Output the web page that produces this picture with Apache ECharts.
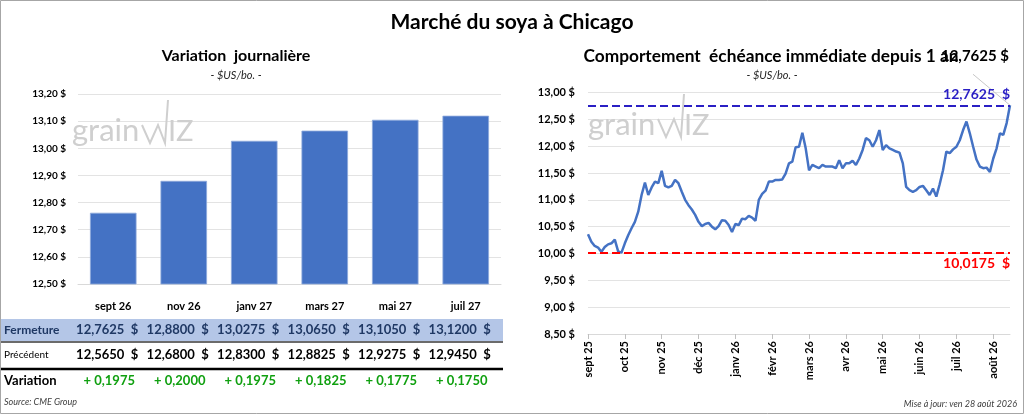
<!DOCTYPE html>
<html><head><meta charset="utf-8">
<script src="https://cdn.jsdelivr.net/npm/echarts@6/dist/echarts.min.js"></script>
<style>html,body{margin:0;padding:0;background:#fff}#c{width:1024px;height:414px}</style>
</head><body><div id="c"></div>
<script>
// ---- data ----
const contracts = ['sept 26', 'nov 26', 'janv 27', 'mars 27', 'mai 27', 'juil 27'];
const closes    = [12.7625, 12.8800, 13.0275, 13.0650, 13.1050, 13.1200];
const previous  = [12.5650, 12.6800, 12.8300, 12.8825, 12.9275, 12.9450];
const variation = [0.1975, 0.2000, 0.1975, 0.1825, 0.1775, 0.1750];

const monthLabels = ['sept 25', 'oct 25', 'nov 25', 'déc 25', 'janv 26', 'févr 26',
                     'mars 26', 'avr 26', 'mai 26', 'juin 26', 'juil 26', 'août 26'];
const pointsPerLabel = 11;
const history = [
  10.36, 10.22, 10.14, 10.11, 10.03, 10.12, 10.17, 10.19, 10.26, 10.04,
  10.0175, 10.19, 10.34, 10.47, 10.59, 10.78, 11.09, 11.32, 11.09, 11.23,
  11.34, 11.31, 11.54, 11.26, 11.23, 11.26, 11.37, 11.31, 11.15, 11.00,
  10.90, 10.82, 10.72, 10.59, 10.51, 10.55, 10.57, 10.50, 10.45, 10.51,
  10.62, 10.61, 10.53, 10.40, 10.55, 10.53, 10.65, 10.64, 10.70, 10.67,
  10.61, 11.00, 11.11, 11.17, 11.34, 11.34, 11.37, 11.37, 11.38, 11.49,
  11.68, 11.71, 11.98, 11.99, 12.25, 11.96, 11.55, 11.65, 11.62, 11.59,
  11.65, 11.62, 11.62, 11.62, 11.59, 11.74, 11.59, 11.68, 11.68, 11.73,
  11.65, 11.77, 11.93, 12.15, 12.11, 11.99, 12.11, 12.30, 11.93, 12.02,
  11.96, 11.93, 11.90, 11.88, 11.68, 11.24, 11.18, 11.15, 11.18, 11.24,
  11.26, 11.18, 11.09, 11.21, 11.06, 11.29, 11.55, 11.90, 11.87, 11.94,
  11.99, 12.11, 12.30, 12.46, 12.24, 11.99, 11.75, 11.62, 11.59, 11.60,
  11.52, 11.77, 11.96, 12.24, 12.21, 12.43, 12.7625
];
const low52 = 10.0175;
const lastClose = 12.7625;

// ---- helpers ----
const FONT = 'Lato';
const fr = (v, d) => v.toFixed(d).replace('.', ',');
const fmtAxis = v => fr(v, 2) + ' $';
const xCats = history.map((v, i) => monthLabels[Math.floor(i / pointsPerLabel)]);
const lastIdx = history.length - 1;

const chart = echarts.init(document.getElementById('c'), null, { renderer: 'canvas' });

const option = {
  backgroundColor: '#fff',
  animation: false,
  textStyle: { fontFamily: FONT },
  grid: [
    { left: 78, top: 94, width: 423, height: 190 },
    { left: 588, top: 92.5, width: 422, height: 241.5 }
  ],
  xAxis: [
    { type: 'category', gridIndex: 0, data: contracts,
      axisLine: { show: true, lineStyle: { color: '#d9d9d9' } },
      axisTick: { show: false },
      axisLabel: { margin: 17, fontFamily: FONT, fontWeight: 'bold', fontSize: 11, color: '#000' } },
    { type: 'category', gridIndex: 1, data: xCats, boundaryGap: false,
      axisLine: { show: true, lineStyle: { color: '#d9d9d9' } },
      axisTick: { show: true, length: 5, lineStyle: { color: '#bfbfbf' },
                  interval: i => i % pointsPerLabel === 0 },
      axisLabel: { rotate: 90, margin: 7, fontFamily: FONT, fontWeight: 'bold', fontSize: 11, color: '#000',
                   interval: i => i % pointsPerLabel === 0 } }
  ],
  yAxis: [
    { type: 'value', gridIndex: 0, min: 12.5, max: 13.2, interval: 0.1,
      axisLine: { show: false }, axisTick: { show: false },
      splitLine: { lineStyle: { color: '#e3e3e3' } },
      axisLabel: { margin: 12, formatter: fmtAxis, fontFamily: FONT, fontWeight: 'bold', fontSize: 10, color: '#000' } },
    { type: 'value', gridIndex: 1, min: 8.5, max: 13, interval: 0.5,
      axisLine: { show: false }, axisTick: { show: false },
      splitLine: { lineStyle: { color: '#e3e3e3' } },
      axisLabel: { margin: 13, formatter: fmtAxis, fontFamily: FONT, fontWeight: 'bold', fontSize: 11, color: '#000' } }
  ],
  series: [
    { type: 'bar', xAxisIndex: 0, yAxisIndex: 0, data: closes, barWidth: '66%',
      itemStyle: { color: '#4472C4', borderColor: '#8eaadc', borderWidth: 0.8 } },
    { type: 'line', xAxisIndex: 1, yAxisIndex: 1, data: history, symbol: 'none',
      lineStyle: { color: '#4472C4', width: 2.5 }, itemStyle: { color: '#4472C4' },
      markLine: {
        silent: true, symbol: 'none',
        data: [
          { yAxis: lastClose,
            lineStyle: { color: '#2a1fc4', type: 'dashed', width: 2 },
            label: { position: 'insideEndTop', formatter: fr(lastClose, 4) + '  $', distance: [0, 4],
                     fontFamily: FONT, fontWeight: 'bold', fontSize: 14, color: '#2a1fc4' } },
          { yAxis: low52,
            lineStyle: { color: '#ff0000', type: 'dashed', width: 2 },
            label: { position: 'insideEndBottom', formatter: fr(low52, 4) + '  $', distance: [0, 4],
                     fontFamily: FONT, fontWeight: 'bold', fontSize: 14, color: '#ff0000' } }
        ]
      } }
  ]
};
chart.setOption(option);

// ---- texts & table (positions taken from the library's axes) ----
function txt(x, y, text, o) {
  return { type: 'text', z: 10, style: Object.assign({ x, y, text, fontFamily: FONT, fontSize: 12,
    fill: '#000', textAlign: 'left', textVerticalAlign: 'middle' }, o || {}) };
}
function watermark(x, y) {
  const c = '#cfcfcf';
  return { type: 'group', x, y, z: 0, silent: true, children: [
    { type: 'text', style: { x: 0, y: 0, text: 'grain', fontFamily: FONT, fontSize: 31, fill: c, textVerticalAlign: 'bottom' } },
    { type: 'polyline', shape: { points: [[70, -21], [78, -3], [86, -21], [93, -3], [96, -46]] },
      style: { stroke: c, lineWidth: 2, fill: null } },
    { type: 'text', style: { x: 96, y: 0, text: 'IZ', fontFamily: FONT, fontSize: 29, fill: c, textVerticalAlign: 'bottom' } }
  ] };
}

const g = [];
g.push({ type: 'rect', z: 20, shape: { x: 0.5, y: 0.5, width: 1023, height: 413 }, style: { fill: null, stroke: '#a6a6a6', lineWidth: 1 } });
g.push(watermark(72, 146));
g.push(watermark(588, 140));
g.push(txt(512, 22, 'Marché du soya à Chicago', { textAlign: 'center', fontSize: 21, fontWeight: 'bold' }));
g.push(txt(236, 56, 'Variation  journalière', { textAlign: 'center', fontSize: 16, fontWeight: 'bold' }));
g.push(txt(236, 75, '- $US/bo. -', { textAlign: 'center', fontSize: 11, fontStyle: 'italic', fill: '#262626' }));
g.push(txt(771, 56, 'Comportement  échéance immédiate depuis 1 an', { textAlign: 'center', fontSize: 17.3, fontWeight: 'bold' }));
g.push(txt(772, 75, '- $US/bo. -', { textAlign: 'center', fontSize: 11, fontStyle: 'italic', fill: '#262626' }));

// last-point data label with leader line, anchored on the plotted point
const lp = chart.convertToPixel({ xAxisIndex: 1, yAxisIndex: 1 }, [lastIdx, history[lastIdx]]);
g.push({ type: 'line', z: 3, shape: { x1: lp[0] - 37, y1: lp[1] - 31, x2: lp[0], y2: lp[1] }, style: { stroke: '#c8c8c8', lineWidth: 1 } });
g.push(txt(lp[0] - 35, 56, fr(history[lastIdx], 4) + ' $', { textAlign: 'center', fontSize: 15, fontWeight: 'bold' }));

// table
g.push({ type: 'rect', z: 1, shape: { x: 1, y: 319, width: 502, height: 22 }, style: { fill: '#b4c6e7' } });
g.push({ type: 'line', z: 2, shape: { x1: 1, y1: 342, x2: 503, y2: 342 }, style: { stroke: '#3a3a3a', lineWidth: 1.5 } });
g.push({ type: 'line', z: 2, shape: { x1: 1, y1: 369, x2: 503, y2: 369 }, style: { stroke: '#000', lineWidth: 2.5 } });
g.push(txt(4, 330, 'Fermeture', { fontWeight: 'bold', fill: '#1f3864' }));
g.push(txt(4, 355, 'Précédent', { fontSize: 10 }));
g.push(txt(4, 381, 'Variation', { fontWeight: 'bold', fontSize: 13 }));
contracts.forEach((c, i) => {
  const cx = chart.convertToPixel({ xAxisIndex: 0 }, i);
  g.push(txt(cx + 25, 330, fr(closes[i], 4) + '  $', { textAlign: 'right', fontWeight: 'bold', fontSize: 13, fill: '#1f3864' }));
  g.push(txt(cx + 25, 355, fr(previous[i], 4) + '  $', { textAlign: 'right', fontWeight: 'bold', fontSize: 13 }));
  g.push(txt(cx - 4, 381, '+ ' + fr(variation[i], 4), { textAlign: 'center', fontWeight: 'bold', fontSize: 13, fill: '#10a010' }));
});
g.push(txt(4, 402, 'Source: CME Group', { fontSize: 9, fontStyle: 'italic', fill: '#404040' }));
g.push(txt(1017, 404, 'Mise à jour: ven 28 août 2026', { textAlign: 'right', fontSize: 9, fontStyle: 'italic', fill: '#404040' }));

chart.setOption({ graphic: g });
</script></body></html>
